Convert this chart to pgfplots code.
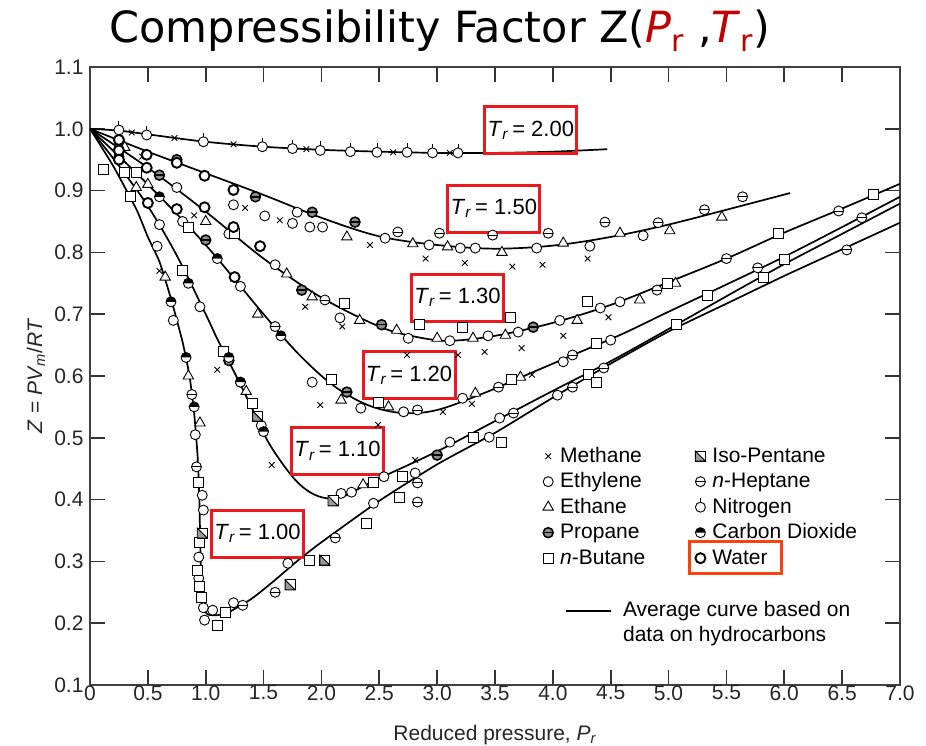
\documentclass[border=0pt]{standalone}
\usepackage{fontspec}
\setmainfont{Liberation Sans}
\newfontfamily\titlefont{DejaVu Sans}
\usepackage{pgfplots}
\pgfplotsset{compat=1.18}

\definecolor{titlered}{RGB}{192,0,0}
\definecolor{boxred}{RGB}{235,25,30}
\definecolor{waterbox}{RGB}{250,65,15}

% marker shapes for the individual gases
\pgfdeclareplotmark{heptane}{%
  \pgfpathcircle{\pgfpointorigin}{\pgfplotmarksize}\pgfusepathqfillstroke
  \pgfpathmoveto{\pgfpoint{-\pgfplotmarksize}{0pt}}%
  \pgfpathlineto{\pgfpoint{\pgfplotmarksize}{0pt}}\pgfusepathqstroke}
\pgfdeclareplotmark{propane}{%
  \pgfscope
  \pgfsetlinewidth{1.5pt}%
  \pgfsetfillcolor{black!45}%
  \pgfpathcircle{\pgfpointorigin}{\pgfplotmarksize}\pgfusepathqfillstroke
  \pgfpathmoveto{\pgfpoint{-\pgfplotmarksize}{0pt}}%
  \pgfpathlineto{\pgfpoint{\pgfplotmarksize}{0pt}}\pgfusepathqstroke
  \endpgfscope}
\pgfdeclareplotmark{isopentane}{%
  \pgfpathrectangle{\pgfpoint{-\pgfplotmarksize}{-\pgfplotmarksize}}{\pgfpoint{2\pgfplotmarksize}{2\pgfplotmarksize}}\pgfusepathqfillstroke
  \pgfscope
  \pgfsetfillcolor{black!40}%
  \pgfpathmoveto{\pgfpoint{-\pgfplotmarksize}{\pgfplotmarksize}}%
  \pgfpathlineto{\pgfpoint{\pgfplotmarksize}{-\pgfplotmarksize}}%
  \pgfpathlineto{\pgfpoint{-\pgfplotmarksize}{-\pgfplotmarksize}}%
  \pgfpathclose\pgfusepathqfillstroke
  \endpgfscope}
\pgfdeclareplotmark{nitrogen}{%
  \pgfpathcircle{\pgfpointorigin}{\pgfplotmarksize}\pgfusepathqfillstroke
  \pgfpathmoveto{\pgfpoint{0pt}{\pgfplotmarksize}}%
  \pgfpathlineto{\pgfpoint{0pt}{1.8\pgfplotmarksize}}\pgfusepathqstroke}
\pgfdeclareplotmark{cotwo}{%
  \pgfpathcircle{\pgfpointorigin}{\pgfplotmarksize}\pgfusepathqfillstroke
  \pgfscope
  \pgfsetfillcolor{black}%
  \pgfpathmoveto{\pgfpoint{\pgfplotmarksize}{0pt}}%
  \pgfpatharc{0}{180}{\pgfplotmarksize}\pgfpathclose\pgfusepathqfill
  \endpgfscope}
\pgfdeclareplotmark{water}{%
  \pgfscope
  \pgfsetlinewidth{1.9pt}%
  \pgfpathcircle{\pgfpointorigin}{\pgfplotmarksize}\pgfusepathqfillstroke
  \endpgfscope}

\pgfplotsset{
  gas/.style={only marks, black, line width=0.9pt, mark options={solid, fill=white},
    legend image code/.code={\path[draw=none, fill=none] (-7pt,-4pt) rectangle (9pt,4pt);
      \draw[##1] plot coordinates {(0pt,0pt)};}},
  avg/.style={black, line width=1.7pt, smooth, tension=0.55, forget plot},
}
\tikzset{
  trbox/.style={draw=boxred, line width=3pt, minimum width=92pt, minimum height=47pt,
    inner sep=0pt, font=\fontsize{22}{26}\selectfont},
}

\begin{document}
\begin{tikzpicture}
\useasboundingbox (-90pt,-61pt) rectangle (836pt,685pt);
\node[anchor=base, font=\titlefont\fontsize{43}{50}\selectfont] at (350pt,642pt)
  {Compressibility Factor Z(\textcolor{titlered}{\textit{P}\textsubscript{r}} ,\textcolor{titlered}{\textit{T}\textsubscript{r}})};
\begin{axis}[
  at={(0pt,0pt)}, anchor=south west, scale only axis,
  width=810pt, height=618pt,
  xmin=0, xmax=7, ymin=0.1, ymax=1.1,
  xtick={0,0.5,1,1.5,2,2.5,3,3.5,4,4.5,5,5.5,6,6.5,7},
  xticklabels={0,0.5,1.0,1.5,2.0,2.5,3.0,3.5,4.0,4.5,5.0,5.5,6.0,6.5,7.0},
  ytick={0.1,0.2,0.3,0.4,0.5,0.6,0.7,0.8,0.9,1.0,1.1},
  yticklabels={0.1,0.2,0.3,0.4,0.5,0.6,0.7,0.8,0.9,1.0,1.1},
  tick align=inside, major tick length=15pt,
  tick style={black!80, line width=1.6pt},
  axis line style={black!75, line width=2pt},
  ticklabel style={font=\fontsize{21}{25}\selectfont, text=black!85},
  yticklabel style={xshift=-3pt},
  xticklabel style={yshift=3pt},
  xlabel={Reduced pressure, \textit{P}\textsubscript{\textit{r}}},
  ylabel={\textit{Z} = \textit{PV}\textsubscript{\textit{m}}/\textit{RT}},
  every axis x label/.style={at={(axis description cs:0.5,-0.089)}, anchor=base,
    font=\fontsize{21}{25}\selectfont, text=black!85},
  every axis y label/.style={at={(axis description cs:-0.0667,0.5)}, rotate=90, anchor=center,
    font=\fontsize{21}{25}\selectfont, text=black!85},
  legend columns=5, transpose legend, legend cell align=left,
  legend style={at={(0.5568,0.3912)}, anchor=north west, draw=none, fill=none,
    inner sep=0pt, font=\fontsize{21}{25}\selectfont,
    nodes={inner sep=0pt, inner xsep=3pt, inner ysep=2.75pt, text height=16pt, text depth=4pt},
    /tikz/every even column/.append style={column sep=45pt}},
]

% average curves, one for each reduced temperature
\addplot[avg] coordinates {(0,1.0)(0.25,0.997)(0.5,0.991)(1.0,0.979)(1.5,0.971)(2.0,0.966)(2.5,0.963)(3.0,0.961)(3.5,0.961)(4.0,0.963)(4.47,0.967)};
\addplot[avg] coordinates {(0,1.0)(0.5,0.963)(1.0,0.928)(1.5,0.893)(2.0,0.856)(2.5,0.826)(3.0,0.812)(3.5,0.806)(4.0,0.811)(4.5,0.825)(5.0,0.845)(5.5,0.869)(6.05,0.896)};
\addplot[avg] coordinates {(0,1.0)(0.5,0.937)(1.0,0.866)(1.5,0.79)(2.0,0.727)(2.5,0.68)(2.8,0.664)(3.1,0.657)(3.5,0.665)(4.0,0.686)(4.5,0.715)(5.0,0.752)(5.5,0.79)(6.0,0.832)(6.5,0.871)(7.0,0.911)};
\addplot[avg] coordinates {(0,1.0)(0.5,0.91)(1.0,0.812)(1.5,0.70)(1.8,0.636)(2.1,0.585)(2.4,0.553)(2.7,0.54)(3.0,0.545)(3.4,0.572)(3.8,0.604)(4.2,0.636)(4.6,0.668)(5.0,0.704)(5.5,0.748)(6.0,0.793)(6.5,0.841)(7.0,0.890)};
\addplot[avg] coordinates {(0,1.0)(0.25,0.94)(0.5,0.875)(0.75,0.795)(1.0,0.70)(1.1,0.66)(1.25,0.605)(1.4,0.548)(1.55,0.49)(1.75,0.437)(1.9,0.412)(2.05,0.402)(2.2,0.406)(2.45,0.43)(3.0,0.478)(3.5,0.527)(4.0,0.576)(4.5,0.624)(5.0,0.676)(5.5,0.729)(6.0,0.781)(6.5,0.830)(7.0,0.879)};
\addplot[avg, tension=0.35] coordinates {(0,1.0)(0.2,0.94)(0.4,0.87)(0.5,0.825)(0.6,0.785)(0.7,0.725)(0.8,0.655)(0.86,0.6)(0.9,0.54)(0.93,0.47)(0.945,0.40)(0.955,0.31)(0.965,0.25)(0.98,0.224)(1.02,0.214)(1.1,0.213)(1.2,0.218)(1.4,0.24)(1.6,0.27)(1.8,0.302)(2.0,0.331)(2.5,0.398)(3.0,0.457)(3.5,0.508)(4.0,0.565)(4.5,0.62)(5.0,0.672)(5.5,0.717)(6.0,0.762)(6.5,0.805)(7.0,0.848)};

% measured points
\addplot[gas, mark=x, mark size=4pt] coordinates {
 (0.36,0.994)(0.73,0.985)(1.24,0.975)(1.87,0.967)(2.62,0.962)(3.11,0.961)
 (0.45,0.955)(1.34,0.872)(1.64,0.852)(2.42,0.812)(2.9,0.79)(3.24,0.783)(3.65,0.777)(3.91,0.78)(4.3,0.79)
 (0.9,0.86)(1.86,0.712)(2.18,0.68)(2.74,0.634)(3.18,0.634)(3.41,0.639)(3.73,0.645)(4.09,0.665)(4.48,0.695)
 (1.99,0.553)(2.49,0.521)(3.05,0.542)(3.3,0.555)(3.82,0.602)
 (1.1,0.61)(1.57,0.456)(2.81,0.464)(0.6,0.77)};
\addlegendentry{Methane}
\addplot[gas, mark=*, mark size=5pt] coordinates {
 (1.24,0.877)(1.51,0.859)(1.75,0.847)(1.79,0.865)(1.9,0.841)(2.01,0.841)(2.55,0.823)(2.93,0.812)(3.2,0.807)(3.33,0.807)(3.86,0.807)(4.32,0.81)(4.78,0.827)
 (0.25,0.968)(0.75,0.905)(1.2,0.83)(1.6,0.78)(2.16,0.694)(2.75,0.661)(3.11,0.657)(3.44,0.665)(3.7,0.671)(4.06,0.69)(4.41,0.71)(4.58,0.72)
 (0.25,0.955)(0.8,0.85)(1.3,0.745)(1.92,0.59)(2.34,0.548)(2.71,0.542)(3.22,0.564)(4.09,0.623)(4.5,0.658)
 (0.6,0.845)(0.95,0.712)(1.3,0.59)(1.48,0.52)(2.17,0.41)(2.26,0.412)(2.54,0.437)(2.81,0.443)(3.11,0.493)(3.45,0.501)(3.54,0.532)(4.04,0.569)
 (0.58,0.81)(0.72,0.69)(0.91,0.505)(0.97,0.407)(0.98,0.383)(0.94,0.307)(0.94,0.273)(0.98,0.225)(0.99,0.205)(1.06,0.221)(1.24,0.233)(1.71,0.297)(2.45,0.394)};
\addlegendentry{Ethylene}
\addplot[gas, mark=triangle*, mark size=6pt] coordinates {
 (0.3,0.97)(2.22,0.825)(2.79,0.814)(3.09,0.809)(3.56,0.80)(4.09,0.815)(4.58,0.831)(5.01,0.835)(5.46,0.857)
 (1.0,0.85)(1.7,0.765)(1.92,0.728)(2.33,0.69)(2.65,0.674)(3.0,0.661)(3.31,0.661)(3.59,0.666)(4.21,0.69)(4.75,0.723)(5.06,0.75)
 (0.5,0.91)(1.45,0.7)(2.17,0.561)(2.58,0.55)(3.33,0.572)(3.72,0.598)
 (0.4,0.905)(1.35,0.575)(2.36,0.424)(0.65,0.76)(0.85,0.6)(0.95,0.524)};
\addlegendentry{Ethane}
\addplot[gas, mark=propane, mark size=5pt] coordinates {
 (1.43,0.89)(1.92,0.865)(2.29,0.849)(0.75,0.95)
 (1.83,0.739)(2.52,0.683)(3.83,0.679)(0.6,0.925)
 (2.22,0.574)(1.0,0.82)(3.0,0.472)(1.2,0.625)};
\addlegendentry{Propane}
\addplot[gas, mark=square*, mark size=5pt] coordinates {
 (0.4,0.93)(1.25,0.83)(2.2,0.718)(2.85,0.683)(3.22,0.679)(3.63,0.694)(4.3,0.72)(4.99,0.75)(5.95,0.831)(6.77,0.893)
 (0.3,0.93)(0.85,0.84)(2.09,0.594)(2.49,0.558)(3.64,0.594)(4.38,0.653)(5.34,0.731)(6.0,0.789)
 (0.8,0.77)(1.15,0.64)(1.4,0.555)(2.45,0.428)(2.7,0.437)(3.31,0.501)(4.31,0.602)(5.82,0.759)
 (0.12,0.935)(0.35,0.89)(0.94,0.428)(0.95,0.33)(0.93,0.286)(0.95,0.259)(0.96,0.242)(1.1,0.197)(1.17,0.218)(1.9,0.302)(2.39,0.362)(2.67,0.403)(3.56,0.493)(4.38,0.59)(5.07,0.683)};
\addlegendentry{\textit{n}-Butane}
\addplot[gas, mark=isopentane, mark size=5pt] coordinates {
 (0.97,0.346)(1.73,0.262)(2.03,0.302)(2.1,0.398)(1.45,0.535)};
\addlegendentry{Iso-Pentane}
\addplot[gas, mark=heptane, mark size=5pt] coordinates {
 (2.66,0.833)(3.02,0.831)(3.48,0.828)(3.96,0.831)(4.45,0.849)(4.91,0.848)(5.31,0.869)(5.64,0.89)
 (2.03,0.723)(4.9,0.739)(5.5,0.79)(6.47,0.867)
 (1.6,0.68)(2.83,0.545)(3.53,0.582)(4.17,0.634)(6.67,0.856)(5.77,0.775)
 (3.66,0.54)(4.17,0.582)(4.44,0.613)
 (0.88,0.57)(0.92,0.453)(1.32,0.229)(1.6,0.25)(2.12,0.338)(2.83,0.396)(2.83,0.427)(6.54,0.804)};
\addlegendentry{\textit{n}-Heptane}
\addplot[gas, mark=nitrogen, mark size=5pt] coordinates {
 (0.25,0.998)(0.49,0.99)(0.98,0.979)(1.49,0.971)(1.75,0.968)(1.99,0.965)(2.25,0.963)(2.48,0.962)(2.74,0.962)(2.96,0.961)(3.18,0.961)};
\addlegendentry{Nitrogen}
\addplot[gas, mark=cotwo, mark size=5pt] coordinates {
 (0.7,0.72)(0.83,0.63)(0.9,0.55)(0.85,0.75)(1.3,0.59)(1.5,0.51)(1.2,0.63)(0.6,0.89)(1.1,0.79)(1.65,0.665)};
\addlegendentry{Carbon Dioxide}
\addplot[gas, mark=water, mark size=5pt] coordinates {
 (0.25,0.982)(0.49,0.958)(0.75,0.945)(0.99,0.924)(1.24,0.901)
 (0.49,0.937)(0.99,0.873)(1.24,0.841)(1.47,0.81)
 (0.25,0.965)(0.75,0.87)(1.25,0.76)(0.25,0.95)(0.5,0.88)};
\addlegendentry{Water}

% temperature labels
\node[trbox] at (axis cs:3.81,0.998) {\textit{T}\textsubscript{\textit{r}}\,= 2.00};
\node[trbox] at (axis cs:3.49,0.871) {\textit{T}\textsubscript{\textit{r}}\,= 1.50};
\node[trbox] at (axis cs:3.176,0.727) {\textit{T}\textsubscript{\textit{r}}\,= 1.30};
\node[trbox] at (axis cs:2.757,0.601) {\textit{T}\textsubscript{\textit{r}}\,= 1.20};
\node[trbox] at (axis cs:2.139,0.479) {\textit{T}\textsubscript{\textit{r}}\,= 1.10};
\node[trbox] at (axis cs:1.448,0.345) {\textit{T}\textsubscript{\textit{r}}\,= 1.00};
\draw[waterbox, line width=3pt] (axis cs:5.185,0.2812) rectangle (axis cs:5.98,0.3314);
\end{axis}

% second legend: the average curve
\begin{axis}[
  at={(0pt,0pt)}, anchor=south west, scale only axis,
  width=810pt, height=618pt,
  xmin=0, xmax=7, ymin=0.1, ymax=1.1, hide axis,
  legend cell align=left,
  legend style={at={(0.5864,0.1404)}, anchor=north west, draw=none, fill=none,
    inner sep=0pt, font=\fontsize{21}{25}\selectfont,
    nodes={inner sep=0pt, inner xsep=3pt, inner ysep=2.5pt, text height=16pt, text depth=4pt}},
]
\addlegendimage{legend image code/.code={\path[draw=none, fill=none] (0pt,-2pt) rectangle (54pt,2pt);
  \draw[black, line width=1.8pt] (0pt,0pt) -- (45pt,0pt);}}
\addlegendentry{Average curve based on}
\addlegendimage{empty legend}
\addlegendentry{data on hydrocarbons}
\end{axis}
\end{tikzpicture}
\end{document}
